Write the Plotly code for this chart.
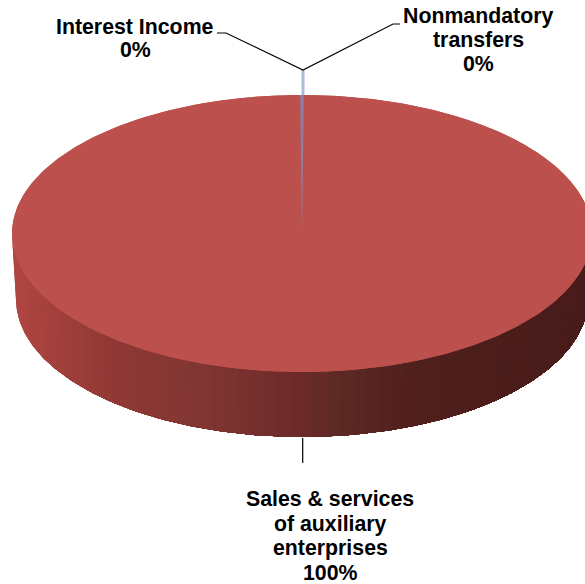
import numpy as np
import plotly.graph_objects as go

# Revenue shares, in percent
categories = ["Interest Income", "Nonmandatory transfers", "Sales & services of auxiliary enterprises"]
shares = [0.1, 0.1, 99.8]
slice_colors = ["#957B9E", "#8C7FA6", "#BC504D"]

# Label text, one entry per wrapped line: (prefix lines, x centre, y centres of the lines)
label_lines = [
    (["Interest Income"], 135, [26.5, 50]),
    (["Nonmandatory", "transfers"], 478, [15.5, 40, 64]),
    (["Sales & services", "of auxiliary", "enterprises"], 330, [498.5, 524, 548, 573]),
]

# Pie drawn as a tilted disc, in page pixels
CX, CY, RX, RY = 302.0, 233.5, 290.0, 138.5
BX, BY, BRY = 286.0, 299.0, 138.0
wall_x = [0.0, 0.07, 0.17, 0.33, 0.49, 0.54, 0.69, 0.86, 1.0]
wall_rgb = [(176, 70, 66), (162, 64, 60), (143, 56, 53), (127, 53, 50), (107, 42, 41),
            (95, 42, 37), (79, 31, 28), (74, 29, 27), (72, 28, 26)]
WALL_BANDS = 70


def top_point(theta):
    """Clockwise angle from twelve o'clock to a point on the top rim."""
    return CX + RX * np.sin(theta), CY - RY * np.cos(theta)


fig = go.Figure()

# Side wall: overlapping bands painted left to right, darkening towards the right
t = np.linspace(np.pi, 0, 241)
tx, ty = CX + RX * np.cos(t), CY + RY * np.sin(t)
bx, by = CX + BX * np.cos(t), BY + BRY * np.sin(t)
for i in range(WALL_BANDS):
    start = int(round(i / WALL_BANDS * 240))
    f = (tx[start] - tx[0]) / (tx[-1] - tx[0])
    rgb = [int(round(np.interp(f, wall_x, [c[k] for c in wall_rgb]))) for k in range(3)]
    fig.add_trace(go.Scatter(
        x=np.r_[tx[start:], bx[start:][::-1]],
        y=np.r_[ty[start:], by[start:][::-1]],
        mode="lines", fill="toself", fillcolor=f"rgb({rgb[0]},{rgb[1]},{rgb[2]})",
        line=dict(width=0), hoverinfo="skip", showlegend=False,
    ))

# Top face: a solid disc first, so slice edges never blend with the page
disc_x, disc_y = top_point(np.linspace(0, 2 * np.pi, 361))
fig.add_trace(go.Scatter(x=disc_x, y=disc_y, mode="lines", fill="toself",
                         fillcolor=slice_colors[-1], line=dict(width=0),
                         hoverinfo="skip", showlegend=False))

# Each slice's sweep comes from its share, with the two small slices
# straddling twelve o'clock
angle = -np.radians(shares[0] * 3.6)
slices = []
for name, share, color in zip(categories, shares, slice_colors):
    sweep = np.radians(share * 3.6)
    slices.append((name, share, color, angle, sweep))
    angle += sweep
for name, share, color, a0, sweep in sorted(slices, key=lambda s: -s[1]):
    th = np.linspace(a0, a0 + sweep, max(3, int(share * 6)))
    px, py = top_point(th)
    fig.add_trace(go.Scatter(
        x=np.r_[CX, px, CX], y=np.r_[CY, py, CY],
        mode="lines", fill="toself", fillcolor=color,
        line=dict(width=0), name=name, hoverinfo="name", showlegend=False,
    ))

# Leader lines
rim_x, rim_y = top_point(0.0)
joint_y = rim_y - 25
fig.add_trace(go.Scatter(x=[rim_x + 1, rim_x + 1], y=[joint_y, rim_y], mode="lines",
                         line=dict(color="#A9BCD9", width=3), hoverinfo="skip", showlegend=False))
fig.add_trace(go.Scatter(x=[217, 226, rim_x + 1, 393, 400], y=[33, 33, joint_y, 24, 24], mode="lines",
                         line=dict(color="black", width=1.2), hoverinfo="skip", showlegend=False))
fig.add_trace(go.Scatter(x=[rim_x + 0.7, rim_x + 0.7], y=[438, 463], mode="lines",
                         line=dict(color="black", width=1.2), hoverinfo="skip", showlegend=False))

# Labels, one annotation per line so the leading stays tight
for (lines, x, ys), share in zip(label_lines, shares):
    for text, y in zip(lines + [f"{share:.0f}%"], ys):
        fig.add_annotation(x=x, y=y, text=f"<b>{text}</b>", showarrow=False,
                           xanchor="center", yanchor="middle",
                           font=dict(family="Liberation Sans", size=21.3, color="black"))

fig.update_layout(
    width=585, height=584, margin=dict(l=0, r=0, t=0, b=0),
    paper_bgcolor="white", plot_bgcolor="white", showlegend=False,
    xaxis=dict(range=[0, 585], visible=False, fixedrange=True),
    yaxis=dict(range=[584, 0], visible=False, fixedrange=True),
)
fig.write_html("out.html", config={"displayModeBar": False})
